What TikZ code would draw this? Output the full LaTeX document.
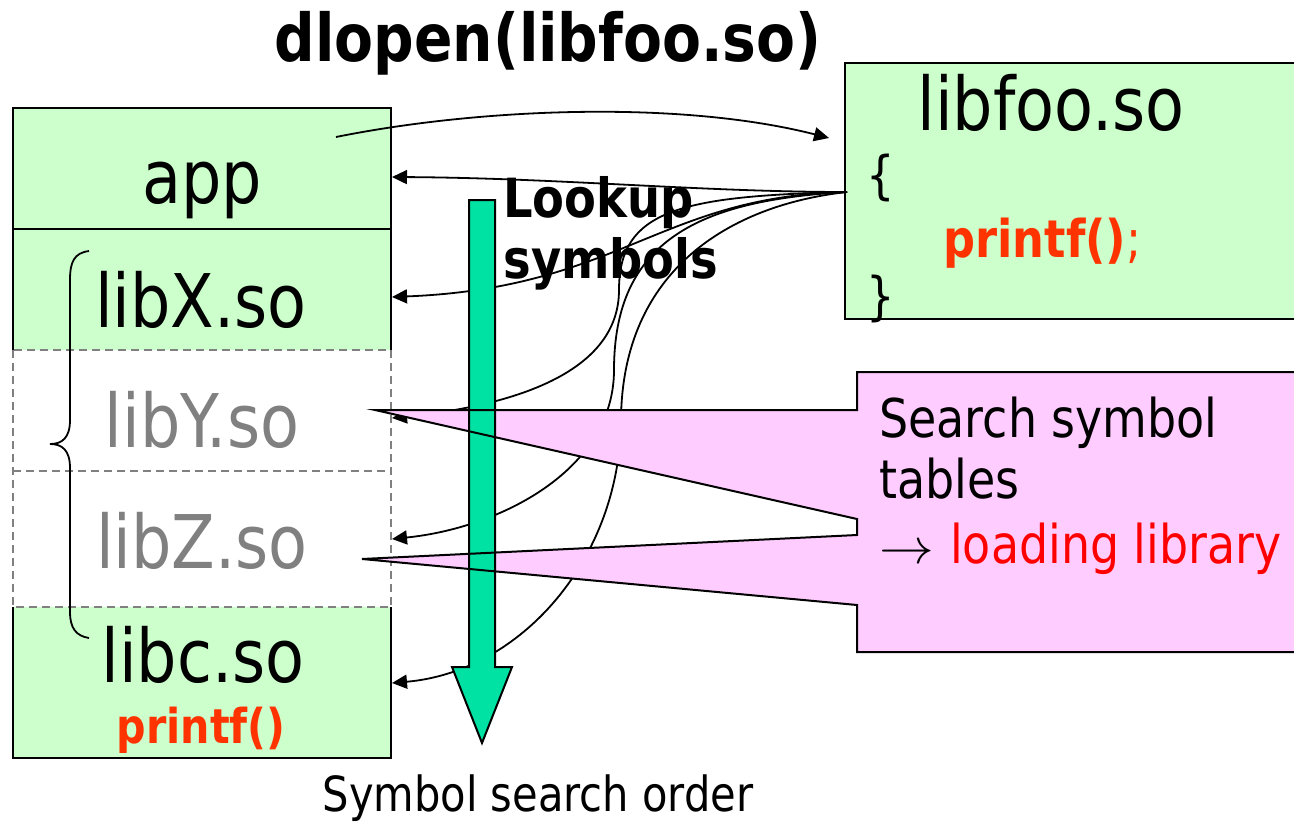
\documentclass[tikz,border=0pt]{standalone}
\usepackage{fontspec}
\setmainfont{DejaVu Sans}[FakeStretch=0.86]
\usepackage{tikz}
\usetikzlibrary{arrows.meta}

\definecolor{boxgreen}{RGB}{204,255,204}
\definecolor{notepink}{RGB}{255,204,255}
\definecolor{bargreen}{RGB}{0,226,164}
\definecolor{fnred}{RGB}{255,51,0}
\definecolor{libgray}{RGB}{128,128,128}

\begin{document}
\begin{tikzpicture}[x=0.5pt, y=-0.5pt,
  libname/.style={anchor=base, inner sep=0pt, font=\fontsize{37}{44}\selectfont},
  codetext/.style={anchor=base west, inner sep=0pt, font=\fontsize{26}{31}\selectfont},
  notetext/.style={anchor=base west, inner sep=0pt, font=\fontsize{26.7}{31}\selectfont},
  lookup/.style={-{Triangle[length=7.5pt,width=7pt]}, line width=0.9pt},
  dashedsep/.style={draw=libgray, dashed, line width=0.8pt, dash pattern=on 4pt off 2.5pt}]

 \useasboundingbox (0,0) rectangle (1294,824);

 % Title
 \node (title) [anchor=base, inner sep=0pt, font=\fontsize{33}{40}\selectfont\bfseries] at (548,62) {dlopen(libfoo.so)};

 % Link map of the process: app and its libraries
 \fill [boxgreen] (13,108) rectangle (391,350);
 \fill [boxgreen] (13,607) rectangle (391,758);
 \draw [dashedsep] (13,350) rectangle (391,607);
 \draw [dashedsep] (13,471) -- (391,471);
 \draw [line width=1pt] (13,350) -- (13,108) -- (391,108) -- (391,350);
 \draw [line width=1pt] (13,229) -- (391,229);
 \draw [line width=1pt] (13,607) -- (13,758) -- (391,758) -- (391,607);

 \node (app)  [libname] at (202,203) {app};
 \node (libx) [libname] at (201,327) {libX.so};
 \node (liby) [libname, text=libgray] at (202,447) {libY.so};
 \node (libz) [libname, text=libgray] at (202,568) {libZ.so};
 \node (libc) [libname] at (203,682) {libc.so};
 \node (libcfn) [anchor=base, inner sep=0pt, text=fnred, font=\fontsize{24}{29}\selectfont\bfseries] at (201,743) {printf()};

 % Brace over the loaded libraries
 \draw [line width=0.9pt] (89,251) .. controls (74,253) and (70,262) .. (70,280) -- (70,420)
   .. controls (70,438) and (62,444) .. (50,444) .. controls (62,444) and (70,450) .. (70,468)
   -- (70,612) .. controls (70,628) and (76,636) .. (89,638);

 % The library being opened
 \fill [boxgreen] (845,63) rectangle (1300,319);
 \draw [line width=1pt] (1300,63) -- (845,63) -- (845,319) -- (1300,319);
 \node (libfoo) [libname] at (1051,131) {libfoo.so};
 \node (lbrace) [codetext] at (866,193) {\{};
 \node (call)   [codetext, text=fnred] at (943,257) {\textbf{printf()};};
 \node (rbrace) [codetext] at (866,314) {\}};

 % End points of the connectors
 \coordinate (fromapp) at (336,137);
 \coordinate (tofoo) at (829,138);
 \coordinate (src) at (847,192);
 \coordinate (toapp) at (392,177);
 \coordinate (tolibx) at (392,297);
 \coordinate (toliby) at (392,418);
 \coordinate (tolibz) at (392,539);
 \coordinate (tolibc) at (392,683);

 % dlopen call
 \draw [lookup] (fromapp) .. controls (480,108) and (680,100) .. (tofoo);

 % Lookup of printf in every object
 \draw [lookup] (src) .. controls (700,192) and (560,178) .. (toapp);
 \draw [lookup] (src) .. controls (660,196) and (620,288) .. (tolibx);
 \draw [lookup] (src) .. controls (680,196) and (619,210) .. (619,290)
   .. controls (619,370) and (520,405) .. (toliby);
 \draw [lookup] (src) .. controls (700,200) and (614,240) .. (614,370)
   .. controls (614,470) and (500,528) .. (tolibz);
 \draw [lookup] (src) .. controls (730,205) and (622,270) .. (621,420)
   .. controls (620,560) and (520,672) .. (tolibc);

 % Callout
 \fill [notepink] (857,372) -- (1300,372) -- (1300,652) -- (857,652) -- (857,605) -- (362,559)
   -- (857,535) -- (857,519) -- (375,410) -- (857,410) -- cycle;

 % Search order arrow
 \draw [fill=bargreen, line width=1pt] (469,200) -- (495,200) -- (495,667) -- (512,667)
   -- (482,743) -- (452,667) -- (469,667) -- cycle;
 \node (lookup1) [anchor=base west, inner sep=0pt, font=\fontsize{27}{31}\selectfont\bfseries] at (503,217) {Lookup};
 \node (lookup2) [anchor=base west, inner sep=0pt, font=\fontsize{27}{31}\selectfont\bfseries] at (503,278) {symbols};
 \node (order) [anchor=base, inner sep=0pt, font=\fontsize{24.2}{29}\selectfont] at (538,811) {Symbol search order};

 % Callout outline and text
 \draw [line width=1pt] (857,372) -- (1300,372) -- (1300,652) -- (857,652) -- (857,605) -- (362,559)
   -- (857,535) -- (857,519) -- (375,410) -- (857,410) -- cycle;
 \node (note1) [notetext] at (879,437) {Search symbol};
 \node (note2) [notetext] at (879,498) {tables};
 \node (note3) [notetext] at (879,563) {\scalebox{1.1}[1]{$\rightarrow$}\hspace{8pt}\textcolor{red}{loading library}};

\end{tikzpicture}
\end{document}
